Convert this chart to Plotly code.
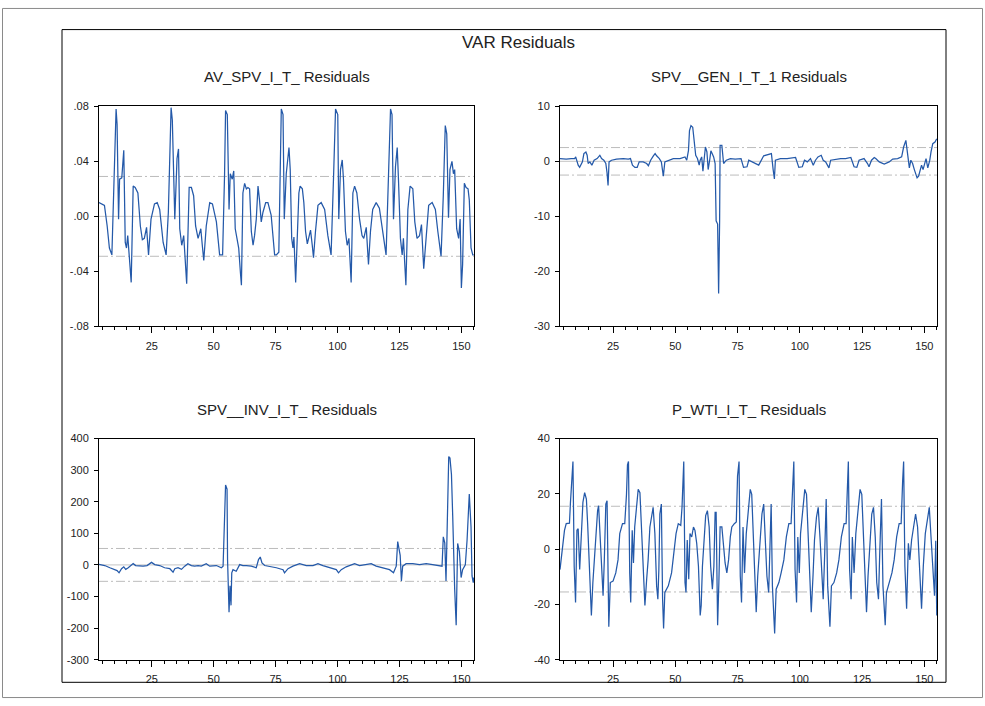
import plotly.graph_objects as go

# ---------------- data (observation index, residual) ----------------
av_spv_t = [3.7, 5.9, 7.0, 7.9, 8.9, 9.95, 10.6, 11.0, 11.6, 12.0, 12.9, 13.7, 14.3, 14.8, 15.3, 16.0, 16.7, 17.5, 18.3, 19.4,
            20.4, 21.2, 22.0, 22.9, 23.7, 24.7, 26.1, 27.2, 28.2, 29.6, 30.8, 31.7, 32.3, 32.8, 33.3, 34.3, 35.2, 35.8, 36.3,
            37.1, 37.9, 38.7, 39.1, 40.1, 41.0, 41.9, 42.7, 43.7, 44.8, 45.4, 46.0, 47.0, 48.4, 49.5, 51.1, 52.4, 53.6, 54.4,
            54.8, 55.5, 56.2, 56.7, 57.5, 58.1, 58.7, 59.4, 60.1, 60.8, 61.2, 61.8, 62.5, 63.2, 63.8, 64.5, 65.2, 65.9, 66.5,
            67.2, 67.9, 68.5, 69.2, 69.9, 71.0, 71.9, 73.2, 74.6, 75.3, 76.3, 76.9, 77.3, 78.0, 78.5, 79.3, 80.0, 80.4, 80.9,
            81.5, 82.0, 82.4, 83.1, 83.6, 84.4, 84.9, 85.8, 86.4, 87.1, 87.8, 88.4, 89.1, 89.8, 90.3, 91.1, 92.1, 93.4, 94.8,
            96.1, 97.4, 98.4, 99.2, 100.1, 100.5, 101.2, 101.9, 102.4, 103.2, 103.9, 104.6, 105.5, 106.2, 106.9, 107.8, 108.9,
            109.9, 110.6, 111.6, 112.5, 113.3, 114.2, 115.6, 116.9, 118.3, 119.6, 120.6, 121.4, 122.0, 122.6, 123.4, 124.1,
            124.6, 125.4, 126.1, 126.6, 127.6, 128.4, 129.3, 130.4, 131.2, 132.1, 133.1, 133.9, 134.8, 135.8, 136.8, 138.2,
            139.5, 140.5, 141.8, 142.7, 143.5, 144.1, 144.8, 145.4, 146.2, 146.8, 147.3, 148.1, 148.9, 149.5, 150.0, 150.5,
            151.2, 151.9, 152.7, 153.2, 153.9, 154.6, 155.0]
av_spv_res = [0.010, 0.008, -0.007, -0.023, -0.028, 0.039, 0.078, 0.067, -0.002, 0.027, 0.028, 0.048, -0.019, -0.023, -0.014,
              -0.031, -0.048, 0.022, 0.021, 0.017, -0.007, -0.017, -0.016, -0.008, -0.028, -0.002, 0.009, 0.010, 0.005, -0.019,
              -0.028, 0.003, 0.039, 0.079, 0.070, -0.002, 0.042, 0.049, -0.009, -0.021, -0.014, -0.042, -0.049, 0.021, 0.021,
              0.015, -0.007, -0.016, -0.009, -0.021, -0.032, -0.007, 0.010, 0.009, -0.004, -0.028, -0.028, 0.031, 0.077, 0.074,
              0.005, 0.031, 0.027, 0.033, -0.009, -0.016, -0.023, -0.041, -0.050, 0.017, 0.024, 0.020, 0.021, 0.020, -0.011,
              -0.021, -0.014, -0.002, 0.022, 0.012, -0.004, 0.003, 0.010, 0.010, 0.001, -0.028, -0.028, -0.026, 0.034, 0.078,
              0.074, -0.002, 0.031, 0.041, 0.050, 0.034, -0.016, -0.023, -0.015, -0.048, -0.026, 0.017, 0.022, 0.020, 0.010,
              -0.011, -0.020, -0.016, -0.010, -0.021, -0.030, -0.011, 0.008, 0.010, 0.005, -0.014, -0.028, 0.029, 0.078, 0.074,
              -0.002, 0.034, 0.041, 0.027, -0.011, -0.021, -0.016, -0.048, 0.017, 0.022, 0.017, -0.002, -0.014, -0.016, -0.008,
              -0.035, -0.011, 0.005, 0.010, 0.006, -0.011, -0.028, 0.031, 0.078, 0.074, -0.002, 0.036, 0.050, 0.027, -0.016,
              -0.028, -0.016, -0.050, 0.005, 0.022, 0.020, -0.004, -0.016, -0.014, -0.006, -0.038, -0.014, 0.008, 0.010, 0.005,
              -0.011, -0.029, 0.015, 0.066, 0.060, -0.001, 0.034, 0.040, 0.031, 0.034, -0.009, -0.016, -0.002, -0.052, -0.035,
              0.024, 0.021, 0.020, 0.012, -0.023, -0.028, -0.028]

spv_gen_t = [3.7, 6.2, 8.2, 9.6, 10.0, 11.0, 11.6, 12.7, 13.3, 14.1, 14.6, 15.0, 15.7, 16.5, 17.4, 18.6, 19.7, 20.4, 21.3,
             22.1, 22.6, 23.0, 23.4, 24.4, 26.4, 29.1, 31.1, 32.0, 32.8, 33.8, 34.7, 35.5, 37.1, 38.5, 39.2, 40.1, 41.2, 41.9,
             42.5, 43.6, 44.4, 44.9, 45.2, 45.8, 47.2, 49.2, 51.9, 53.9, 54.6, 55.3, 55.7, 56.3, 57.0, 57.7, 58.2, 58.9, 59.6,
             60.0, 60.6, 61.1, 61.6, 62.1, 62.7, 63.2, 63.8, 64.3, 64.8, 65.4, 66.0, 66.4, 67.0, 67.4, 67.8, 68.0, 68.7, 69.4,
             70.5, 72.1, 74.1, 76.4, 77.4, 78.8, 79.5, 80.8, 82.1, 83.5, 85.5, 88.6, 89.3, 89.8, 90.2, 92.2, 94.9, 98.3, 99.6,
             101.0, 101.9, 103.0, 104.3, 105.4, 106.3, 107.3, 108.6, 109.4, 110.4, 111.7, 112.4, 114.4, 116.4, 118.4, 120.5,
             121.8, 122.9, 123.8, 125.8, 127.2, 127.8, 128.8, 129.9, 130.5, 131.9, 133.9, 135.9, 137.3, 139.3, 140.9, 141.7,
             142.6, 143.3, 144.0, 144.6, 145.3, 146.0, 147.1, 147.7, 148.4, 148.9, 149.5, 150.0, 150.7, 151.4, 152.2, 152.7,
             153.4, 154.3, 155.0]
spv_gen_res = [0.5, 0.4, 0.5, 0.5, 0.8, -0.7, -1.1, -0.1, 1.4, 1.7, 1.1, -0.4, -0.1, -0.7, 0.2, 0.5, 1.1, 0.5, 0.2, -0.4,
               -2.1, -4.4, -0.1, 0.2, 0.4, 0.5, 0.4, 0.5, -0.7, -1.1, -1.1, -0.1, -0.1, -0.4, -0.8, 0.2, 1.0, 1.4, 1.0, 0.5,
               -0.1, -2.1, -2.7, -0.1, 0.2, 0.5, 0.5, 0.8, 0.2, 2.0, 5.6, 6.5, 6.2, 2.6, 1.1, 0.5, -0.7, 0.2, 0.8, -1.8, 0.2,
               2.6, 1.7, -1.5, 0.2, 1.9, 1.4, 0.8, -0.4, -10.8, -11.4, -24.0, -11.0, 2.9, 2.9, -0.4, 0.2, 0.5, 0.4, 0.5, -1.1,
               -1.0, 0.2, -0.1, -0.4, -0.7, 1.0, 1.4, -1.5, -3.2, 0.2, 0.5, 0.5, 0.7, -1.1, -1.0, 0.2, -0.1, 0.5, -0.7, 0.2,
               0.8, 1.1, 0.2, -0.1, -1.2, 0.2, 0.4, 0.5, 0.5, 0.7, -1.0, -1.1, 0.2, 0.5, -0.4, -1.0, 0.2, 0.7, 0.5, -0.1, -0.5,
               -0.1, 0.4, 0.5, 0.8, 2.6, 3.8, 1.7, -1.2, 0.2, -0.4, -1.5, -3.0, -2.7, -1.2, -0.7, -1.5, -0.7, 0.5, -1.2, 0.2,
               1.7, 3.2, 3.5, 4.1]

spv_inv_t = [3.7, 6.0, 8.1, 10.1, 11.0, 11.8, 12.8, 13.7, 14.5, 15.5, 16.4, 17.5, 18.5, 20.2, 21.5, 23.1, 24.2, 24.9, 26.2,
             28.2, 30.2, 32.3, 33.6, 34.3, 35.6, 37.0, 38.3, 39.6, 41.0, 42.3, 43.7, 45.0, 47.0, 48.4, 51.1, 53.1, 53.8, 54.4,
             54.8, 55.4, 55.6, 56.2, 56.6, 57.0, 57.3, 57.8, 59.1, 60.5, 61.8, 63.2, 65.2, 67.2, 68.1, 68.8, 69.5, 70.6, 72.6,
             75.3, 78.0, 78.6, 80.0, 82.0, 84.7, 87.4, 90.1, 92.1, 94.1, 96.8, 99.5, 100.4, 101.5, 103.5, 104.8, 106.9, 108.9,
             111.6, 113.6, 115.6, 118.3, 121.0, 122.6, 123.7, 124.3, 124.7, 125.3, 125.8, 126.3, 127.7, 130.4, 133.1, 135.8,
             138.4, 141.1, 142.2, 142.7, 143.3, 143.8, 144.5, 144.9, 145.4, 146.0, 146.5, 146.9, 147.3, 147.9, 148.5, 149.2,
             149.9, 150.5, 151.6, 152.3, 152.8, 153.2, 153.9, 154.3, 154.8, 155.0]
spv_inv_res = [2, -2, -9, -15, -18, -25, -12, -6, -14, -9, -2, 4, -2, -4, -4, -2, 4, 8, 1, -2, -9, -12, -23, -12, -9, -14,
               -4, 4, -2, -4, -2, -4, 4, -4, -2, -9, -4, 130, 253, 240, 17, -150, -66, -128, -25, -15, -20, 1, -2, -2, -4,
               -9, 17, 25, 6, -2, -4, -9, -15, -25, -12, -4, 4, -2, -2, 4, -2, -9, -15, -25, -15, -6, -2, 4, -2, 1, 4, -4,
               -9, -15, -25, -4, 74, 50, 30, -51, -4, 4, 4, 1, 4, 1, -2, -4, 89, 70, -51, 150, 343, 338, 286, 156, -15, -77,
               -191, 68, 42, -40, -15, 0, 78, 192, 224, 120, -35, -56, -40]

p_wti_t = [3.7, 4.6, 5.5, 6.2, 7.5, 7.9, 8.5, 8.9, 9.4, 9.95, 10.5, 11.0, 11.6, 12.2, 12.9, 13.6, 14.3, 14.8, 15.3, 15.9,
           16.3, 16.9, 17.6, 18.3, 18.8, 19.2, 19.6, 20.3, 21.0, 21.5, 22.1, 22.6, 23.0, 23.3, 23.9, 25.0, 26.1, 27.0, 27.7,
           28.8, 29.7, 30.4, 30.8, 31.2, 31.7, 32.1, 32.7, 33.2, 33.7, 34.4, 35.1, 35.8, 36.4, 37.1, 37.8, 38.5, 39.1, 39.8,
           40.5, 41.1, 41.8, 42.5, 43.0, 43.4, 43.8, 44.4, 44.9, 45.3, 45.8, 47.2, 48.5, 49.5, 50.3, 51.2, 52.2, 52.7, 53.1,
           53.4, 53.9, 54.3, 54.8, 55.4, 55.9, 56.6, 57.3, 57.9, 58.6, 59.3, 60.0, 60.4, 60.9, 61.6, 62.2, 62.9, 63.6, 64.2,
           64.9, 65.5, 66.0, 66.4, 67.0, 67.5, 68.0, 68.7, 69.4, 70.0, 70.7, 71.4, 72.1, 72.7, 73.7, 74.5, 75.0, 75.6, 76.1,
           76.6, 77.2, 77.8, 78.5, 79.3, 80.1, 80.7, 81.2, 81.9, 82.5, 83.1, 83.9, 84.8, 85.5, 86.2, 86.8, 87.5, 87.9, 88.5,
           89.0, 89.5, 89.9, 90.5, 91.6, 92.5, 93.6, 94.6, 95.6, 96.5, 97.1, 97.6, 98.1, 98.7, 99.2, 99.8, 100.3, 101.1,
           102.0, 102.7, 103.2, 103.9, 104.6, 105.3, 105.9, 106.7, 107.4, 108.1, 108.8, 109.4, 110.0, 110.6, 111.2, 111.7,
           112.1, 112.7, 113.7, 114.8, 115.7, 116.7, 117.8, 118.6, 119.1, 119.5, 120.0, 120.6, 121.1, 121.8, 122.5, 123.3,
           124.2, 124.9, 125.4, 126.1, 126.8, 127.4, 128.1, 128.9, 129.6, 130.3, 130.9, 131.6, 132.1, 132.8, 133.4, 133.9,
           134.3, 134.8, 135.9, 137.0, 137.9, 138.9, 139.9, 140.7, 141.3, 141.7, 142.2, 142.9, 143.6, 144.2, 144.9, 145.7,
           146.5, 147.3, 148.1, 148.9, 149.6, 150.4, 151.4, 152.0, 152.7, 153.4, 154.1, 154.6, 155.0]
p_wti_res = [-7.4, 0.9, 6.8, 9.2, 9.4, 16.9, 29.3, 31.7, -6.2, -19.3, 6.8, 7.4, -7.4, 5.6, 16.9, 20.4, 18.1, 9.2, -1.5,
             -15.7, -24.0, -12.1, -1.5, 8.0, 13.9, 15.7, 8.0, -6.2, -16.9, -3.9, 16.3, 17.5, -22.8, -28.1, -12.1, -11.6, -8.6,
             -3.9, 5.6, 9.2, 9.2, 19.8, 30.5, 31.7, -8.6, -19.3, 6.8, -5.0, 8.0, 15.1, 21.6, 20.4, 9.2, -6.2, -20.4, -10.9,
             -3.9, 8.0, 12.7, 15.1, 5.6, -13.3, -18.1, -7.4, 12.7, 16.3, -18.1, -28.7, -15.7, -13.3, -8.6, -1.5, 5.6, 9.2, 8.6,
             15.1, 28.1, 31.7, -12.1, -15.7, 3.3, -10.9, 5.6, 4.4, 8.0, 6.8, 2.1, -6.2, -24.0, -20.4, -6.2, 4.4, 12.1, 13.9,
             8.0, -6.2, -14.5, -6.2, 13.3, 13.3, -27.5, -12.1, 8.0, 8.0, 0.9, -5.0, -8.6, -3.9, 4.4, 8.0, 9.2, 9.8, 26.4, 31.7,
             -9.8, -19.3, 8.0, -8.6, 5.6, 13.9, 21.6, 19.8, 8.0, -9.8, -22.8, -9.8, 2.1, 12.7, 16.3, 4.4, -9.8, -15.7, -1.5,
             16.3, -13.3, -25.2, -30.5, -14.5, -12.1, -8.6, -3.9, 4.4, 9.2, 9.2, 25.8, 31.7, -7.4, -19.3, 4.4, -8.6, 5.6, 13.9,
             21.6, 19.8, 8.0, -9.8, -22.8, -9.8, 3.3, 11.6, 15.1, 4.4, -10.9, -18.1, -1.5, 18.1, -13.3, -22.8, -28.1, -13.3,
             -12.1, -8.6, -3.9, 4.4, 9.2, 9.2, 25.8, 31.7, -7.4, -18.1, 4.4, -8.6, 5.6, 13.9, 21.6, 19.8, 8.0, -9.8, -22.8,
             -9.8, 2.1, 12.7, 15.1, 4.4, -12.1, -18.1, -1.5, 18.1, -13.3, -20.4, -27.5, -15.7, -12.1, -8.6, -3.9, 4.4, 9.2, 9.2,
             24.6, 31.7, -6.2, -21.6, 2.1, -3.9, 3.3, 8.0, 12.7, 8.0, -9.8, -21.6, -6.2, 5.6, 11.6, 15.1, 4.4, -8.6, -16.9,
             3.0, -24.0]

# two standard-error bands
se_bands = [0.029, 2.5, 52, 15.5]

panel_titles = ["AV_SPV_I_T_ Residuals", "SPV__GEN_I_T_1 Residuals",
                "SPV__INV_I_T_ Residuals", "P_WTI_I_T_ Residuals"]
main_title = "VAR Residuals"

y_tickvals = [[-0.08, -0.04, 0.0, 0.04, 0.08], [-30, -20, -10, 0, 10],
              [-300, -200, -100, 0, 100, 200, 300, 400], [-40, -20, 0, 20, 40]]
y_ticktext = [["-.08", "-.04", ".00", ".04", ".08"], ["-30", "-20", "-10", "0", "10"],
              ["-300", "-200", "-100", "0", "100", "200", "300", "400"], ["-40", "-20", "0", "20", "40"]]
y_ranges = [[-0.08, 0.08], [-30, 10], [-300, 400], [-40, 40]]
x_range = [3.7, 155.1]

# ---------------- figure ----------------
W, H = 985, 706
LINE = "#2459a9"
FONT = "Liberation Sans, Arial, sans-serif"

def px_x(p):
    return p / W

def px_y(p):
    return 1 - p / H

domains = [
    ([px_x(99), px_x(474)], [px_y(326), px_y(102)]),
    ([px_x(560), px_x(937)], [px_y(326), px_y(102)]),
    ([px_x(99), px_x(474)], [px_y(665), px_y(440)]),
    ([px_x(560), px_x(937)], [px_y(665), px_y(440)]),
]

series = [(av_spv_t, av_spv_res), (spv_gen_t, spv_gen_res), (spv_inv_t, spv_inv_res), (p_wti_t, p_wti_res)]

fig = go.Figure()
layout = dict(width=W, height=H, autosize=False, margin=dict(l=0, r=0, t=0, b=0),
              paper_bgcolor="white", plot_bgcolor="white", showlegend=False,
              font=dict(family=FONT, color="#222222"))
shapes = []
annotations = []

for i, (t, v) in enumerate(series):
    sfx = "" if i == 0 else str(i + 1)
    fig.add_trace(go.Scatter(x=t, y=v, mode="lines", line=dict(color=LINE, width=1.25),
                             xaxis="x" + sfx, yaxis="y" + sfx, hoverinfo="skip"))
    xd, yd = domains[i]
    layout["xaxis" + sfx] = dict(
        domain=xd, anchor="y" + sfx, range=x_range, showgrid=False, zeroline=False,
        showline=True, mirror=True, linecolor="black", linewidth=1,
        tick0=0, dtick=25, ticks="outside", ticklen=6, tickcolor="black", tickwidth=1,
        minor=dict(tick0=0, dtick=5, ticks="outside", ticklen=3, tickcolor="black", tickwidth=1),
        tickfont=dict(size=11, color="#222222"), ticklabelstandoff=3)
    layout["yaxis" + sfx] = dict(
        domain=yd, anchor="x" + sfx, range=y_ranges[i], showgrid=False, zeroline=False,
        showline=True, mirror=True, linecolor="black", linewidth=1,
        tickvals=y_tickvals[i], ticktext=y_ticktext[i], ticks="outside", ticklen=4,
        tickcolor="black", tickfont=dict(size=11, color="#222222"), ticklabelstandoff=3)
    xr = "x" + sfx + " domain"
    yr = "y" + sfx
    shapes.append(dict(type="line", xref=xr, yref=yr, x0=0, x1=1, y0=0, y1=0,
                       line=dict(color="#c4c4c4", width=1), layer="below"))
    for sgn in (1, -1):
        shapes.append(dict(type="line", xref=xr, yref=yr, x0=0, x1=1,
                           y0=sgn * se_bands[i], y1=sgn * se_bands[i],
                           line=dict(color="#bcbcbc", width=1, dash="9px,3px,2px,3px"), layer="below"))
    annotations.append(dict(text=panel_titles[i], xref="paper", yref="paper",
                            x=(xd[0] + xd[1]) / 2, y=px_y(72 if i < 2 else 410),
                            xanchor="center", yanchor="middle", showarrow=False,
                            font=dict(size=15, color="#222222", family=FONT)))

annotations.append(dict(text=main_title, xref="paper", yref="paper", x=px_x(518), y=px_y(37),
                        xanchor="center", yanchor="middle", showarrow=False,
                        font=dict(size=17, color="#222222", family=FONT)))

# inner frame and outer border
shapes.append(dict(type="rect", xref="paper", yref="paper", x0=px_x(62), x1=px_x(946),
                   y0=px_y(688), y1=px_y(24), line=dict(color="black", width=1)))
shapes.append(dict(type="rect", xref="paper", yref="paper", x0=px_x(2.5), x1=px_x(982.5),
                   y0=px_y(703.5), y1=px_y(2.5), line=dict(color="#8a8a8a", width=1)))

layout["shapes"] = shapes
layout["annotations"] = annotations
fig.update_layout(**layout)
fig.write_html("out.html",
               config={"displayModeBar": False, "responsive": False, "staticPlot": True},
               post_script="document.body.style.margin='0';document.body.style.overflow='hidden';")
